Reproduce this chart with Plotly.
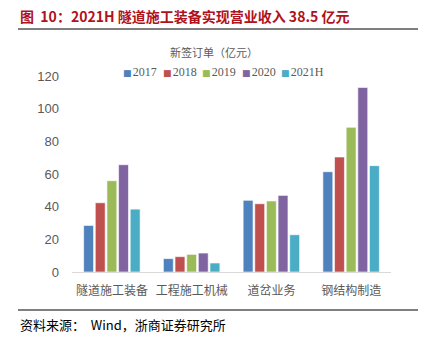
import plotly.graph_objects as go

categories = ["隧道施工装备", "工程施工机械", "道岔业务", "钢结构制造"]
series_names = ["2017", "2018", "2019", "2020", "2021H"]
v2017 = [28.5, 8.2, 43.9, 61.4]
v2018 = [42.4, 9.4, 41.8, 70.4]
v2019 = [55.9, 10.8, 43.5, 88.6]
v2020 = [65.7, 11.6, 46.9, 113.0]
v2021h = [38.5, 5.5, 22.8, 65.1]
colors = ["#4F81BD", "#C0504D", "#9BBB59", "#8064A2", "#4BACC6"]
y_ticks = [0, 20, 40, 60, 80, 100, 120]

title_text = "图  10：2021H 隧道施工装备实现营业收入 38.5 亿元"
chart_title = "新签订单（亿元）"
source_text = "资料来源：  Wind，浙商证券研究所"

W, H = 424, 343
L, R, T, B = 72, 33, 76, 71
pw, ph = W - L - R, H - T - B


def px_x(x):
    return (x - L) / pw


def px_y(y):
    return (H - B - y) / ph


fig = go.Figure()
all_vals = [v2017, v2018, v2019, v2020, v2021h]
for name, vals, col in zip(series_names, all_vals, colors):
    fig.add_trace(go.Bar(
        x=categories, y=vals, name=name, showlegend=False,
        marker=dict(color=col, line=dict(color="rgba(255,255,255,0.6)", width=1)),
    ))

fig.update_layout(
    width=W, height=H,
    margin=dict(l=L, r=R, t=T, b=B, pad=0),
    paper_bgcolor="white", plot_bgcolor="white",
    barmode="group", bargap=0.27, bargroupgap=0.15,
    showlegend=False,
    xaxis=dict(
        showgrid=False, showline=True, linecolor="#D9D9D9", linewidth=1,
        ticks="", tickfont=dict(family="Noto Sans CJK SC", size=12, color="#595959"),
        ticklabelstandoff=8,
    ),
    yaxis=dict(
        range=[0, 120], tickvals=y_ticks, showgrid=False, zeroline=False,
        showline=False, ticks="",
        tickfont=dict(family="Liberation Sans", size=13, color="#595959"),
        ticklabelstandoff=12,
    ),
)

fig.add_annotation(text=f"<b>{title_text}</b>", x=px_x(18), y=px_y(16), xref="paper", yref="paper",
                   xanchor="left", yanchor="middle", showarrow=False,
                   font=dict(family="Noto Sans CJK SC", size=14, color="#B0121B"))
fig.add_annotation(text=chart_title, x=px_x(214), y=px_y(52), xref="paper", yref="paper",
                   xanchor="center", yanchor="middle", showarrow=False,
                   font=dict(family="Noto Sans CJK SC", size=11, color="#595959"))
fig.add_annotation(text=source_text, x=px_x(18), y=px_y(324), xref="paper", yref="paper",
                   xanchor="left", yanchor="middle", showarrow=False,
                   font=dict(family="Noto Sans CJK SC", size=13, color="#000000"))

# legend entries (text legend)
legend_x = [121, 160.5, 200, 239.5, 279]
for lx, name, col in zip(legend_x, series_names, colors):
    fig.add_annotation(
        text=(f"<span style='color:{col};font-family:DejaVu Sans;font-size:9px'>■</span>"
              f"<span style='font-size:5px'> </span>{name}"),
        x=px_x(lx), y=px_y(72), xref="paper", yref="paper",
        xanchor="left", yanchor="middle", showarrow=False,
        font=dict(family="Liberation Serif", size=12, color="#595959"),
    )

fig.add_shape(type="line", xref="paper", yref="paper", x0=px_x(18), x1=px_x(418),
              y0=px_y(29), y1=px_y(29), line=dict(color="#000000", width=1.2))
fig.add_shape(type="line", xref="paper", yref="paper", x0=px_x(18), x1=px_x(418),
              y0=px_y(310), y1=px_y(310), line=dict(color="#000000", width=1.2))

fig.write_html("out.html")
